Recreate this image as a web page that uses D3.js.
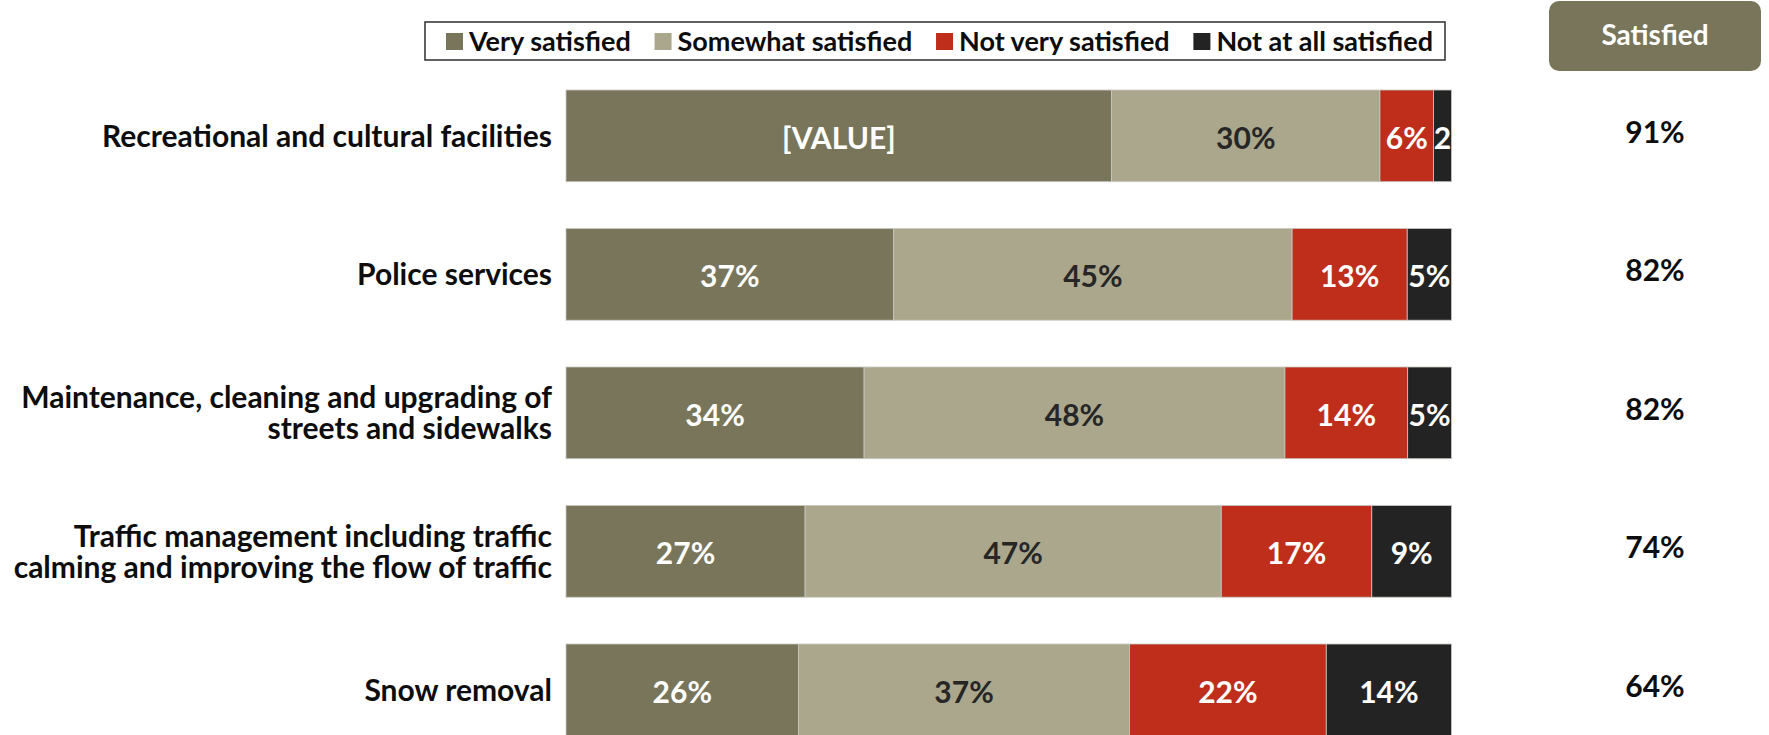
<!DOCTYPE html>
<html><head><meta charset="utf-8">
<script src="https://cdn.jsdelivr.net/npm/d3@7"></script>
<style>
body{margin:0;background:#fff;}
svg text{font-family:Lato,"Open Sans",sans-serif;font-weight:700;}
</style>
</head><body>
<svg id="chart" width="1769" height="735"></svg>
<script>
const categories = [
  "Recreational and cultural facilities",
  "Police services",
  "Maintenance, cleaning and upgrading of streets and sidewalks",
  "Traffic management including traffic calming and improving the flow of traffic",
  "Snow removal"
];
const categoryLines = [
  ["Recreational and cultural facilities"],
  ["Police services"],
  ["Maintenance, cleaning and upgrading of", "streets and sidewalks"],
  ["Traffic management including traffic", "calming and improving the flow of traffic"],
  ["Snow removal"]
];
const seriesNames = ["Very satisfied", "Somewhat satisfied", "Not very satisfied", "Not at all satisfied"];
const verySatisfied     = [61, 37, 34, 27, 26];
const somewhatSatisfied = [30, 45, 48, 47, 37];
const notVerySatisfied  = [6, 13, 14, 17, 22];
const notAtAllSatisfied = [2, 5, 5, 9, 14];
const verySatisfiedLabels = ["[VALUE]", "37%", "34%", "27%", "26%"];
const notAtAllLabels      = ["2", "5%", "5%", "9%", "14%"];
const satisfiedTotals = [91, 82, 82, 74, 64];
const satisfiedHeader = "Satisfied";

const colors = ["#79755A", "#ABA78D", "#BF2E1B", "#232323"];
const labelColors = ["#ffffff", "#262626", "#ffffff", "#ffffff"];

const seriesValues = [verySatisfied, somewhatSatisfied, notVerySatisfied, notAtAllSatisfied];
const seriesLabels = [
  verySatisfiedLabels,
  somewhatSatisfied.map(v => v + "%"),
  notVerySatisfied.map(v => v + "%"),
  notAtAllLabels
];

const rows = categories.map((c, i) => {
  const r = {category: c, index: i};
  seriesNames.forEach((s, j) => r[s] = seriesValues[j][i]);
  return r;
});

const stack = d3.stack().keys(seriesNames).offset(d3.stackOffsetExpand);
const stacked = stack(rows);

const svg = d3.select("#chart");
const x = d3.scaleLinear().domain([0, 1]).range([566, 1451.5]);
const y = d3.scaleBand().domain(categories).range([90, 735.7]).paddingInner(0.338).paddingOuter(0);

// bars
const layers = svg.append("g").selectAll("g").data(stacked).join("g")
  .attr("fill", (d, j) => colors[j]);
layers.selectAll("rect").data(d => d).join("rect")
  .attr("x", d => x(d[0]))
  .attr("y", d => y(d.data.category))
  .attr("width", d => x(d[1]) - x(d[0]))
  .attr("height", y.bandwidth())
  .attr("stroke", "#c8c8c0")
  .attr("stroke-width", 0.8);

// value labels
stacked.forEach((layer, j) => {
  svg.append("g").selectAll("text").data(layer).join("text")
    .attr("x", d => (x(d[0]) + x(d[1])) / 2)
    .attr("y", d => y(d.data.category) + y.bandwidth() / 2 + 2)
    .attr("dy", "0.36em")
    .attr("text-anchor", "middle")
    .attr("fill", labelColors[j])
    .attr("font-size", 30)
    .text(d => seriesLabels[j][d.data.index]);
});

// category labels
const lineH = 31;
const cat = svg.append("g").selectAll("text").data(categories).join("text")
  .attr("text-anchor", "end")
  .attr("fill", "#0d0d0d")
  .attr("font-size", 30)
  .attr("y", d => y(d) + y.bandwidth() / 2);
cat.each(function(d, i) {
  const lines = categoryLines[i];
  const t = d3.select(this);
  lines.forEach((ln, k) => {
    t.append("tspan")
      .attr("x", 552)
      .attr("y", y(d) + y.bandwidth() / 2 + (k - (lines.length - 1) / 2) * lineH)
      .attr("dy", "0.36em")
      .text(ln);
  });
});

// satisfied header
svg.append("rect")
  .attr("x", 1549).attr("y", 1).attr("width", 212).attr("height", 70)
  .attr("rx", 10).attr("fill", colors[0]);
svg.append("text")
  .attr("x", 1655).attr("y", 35).attr("dy", "0.36em")
  .attr("text-anchor", "middle").attr("fill", "#ffffff").attr("font-size", 28)
  .text(satisfiedHeader);

// satisfied totals
svg.append("g").selectAll("text").data(satisfiedTotals).join("text")
  .attr("x", 1655)
  .attr("y", (d, i) => y(categories[i]) + y.bandwidth() / 2 - 4)
  .attr("dy", "0.36em")
  .attr("text-anchor", "middle")
  .attr("fill", "#0d0d0d")
  .attr("font-size", 30)
  .text(d => d + "%");

// legend
const lg = svg.append("g");
lg.append("rect").attr("x", 425).attr("y", 22).attr("width", 1020).attr("height", 38)
  .attr("fill", "#fff").attr("stroke", "#3a3a3a").attr("stroke-width", 1.6);
const items = lg.selectAll("g.item").data(seriesNames).join("g").attr("class", "item");
items.append("rect").attr("width", 17).attr("height", 17).attr("y", 33)
  .attr("fill", (d, j) => colors[j]);
items.append("text").attr("x", 23).attr("y", 41.5).attr("dy", "0.36em")
  .attr("font-size", 27).attr("fill", "#0d0d0d").text(d => d);
const widths = [];
items.each(function() { widths.push(23 + d3.select(this).select("text").node().getComputedTextLength()); });
const left = 446, right = 1433;
const gap = (right - left - d3.sum(widths)) / (widths.length - 1);
let cx = left;
items.each(function(d, j) {
  d3.select(this).attr("transform", `translate(${cx},0)`);
  cx += widths[j] + gap;
});
</script>
</body></html>
